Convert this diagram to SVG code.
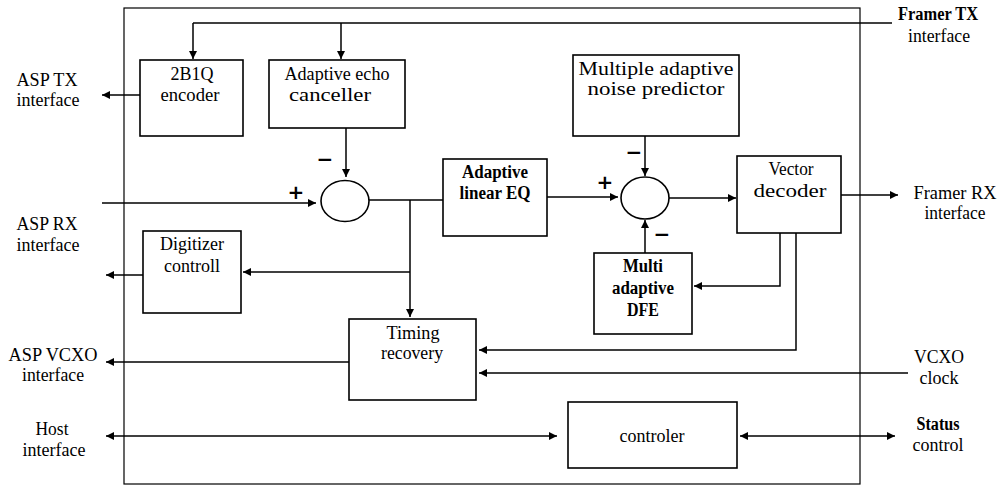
<svg xmlns="http://www.w3.org/2000/svg" width="999" height="486" viewBox="0 0 999 486">
<defs>
<marker id="ah" viewBox="0 0 10 10" refX="10" refY="5" markerWidth="10" markerHeight="8" markerUnits="userSpaceOnUse" orient="auto-start-reverse">
<path d="M0,0 L10,5 L0,10 z" fill="#000"/>
</marker>
<style>
.box{fill:#fff;stroke:#000;stroke-width:1.6}
.frame{fill:none;stroke:#000;stroke-width:1.2}
.ln{fill:none;stroke:#000;stroke-width:1.5}
.ar{marker-end:url(#ah)}
.ar2{marker-start:url(#ah);marker-end:url(#ah)}
text{font-family:"Liberation Serif","Times New Roman",serif;font-size:18px;fill:#000;text-anchor:middle}
.b{font-weight:bold}
.sg{font-family:"DejaVu Sans",sans-serif;font-size:20px;font-weight:bold}
</style>
</defs>
<rect width="999" height="486" fill="#fff"/>
<rect id="frame" class="frame" x="124" y="8" width="736" height="476"/>

<g id="connectors">
<path class="ln" d="M193,23 H892"/>
<path class="ln ar" d="M193,23 V59"/>
<path class="ln ar" d="M341,23 V59"/>
<path class="ln ar" d="M140,95 H102"/>
<path class="ln ar" d="M346,128 V177"/>
<path class="ln ar" d="M102,203 H316"/>
<path class="ln" d="M369,200 H443"/>
<path class="ln ar" d="M410,200 V317"/>
<path class="ln ar" d="M410,272 H243"/>
<path class="ln ar" d="M143,275 H106"/>
<path class="ln ar" d="M349,362 H106"/>
<path class="ln ar" d="M547,197 H618"/>
<path class="ln ar" d="M645,136 V176"/>
<path class="ln ar" d="M645,253 V220"/>
<path class="ln ar" d="M669,198 H736"/>
<path class="ln ar" d="M841,195 H898"/>
<path class="ln ar" d="M780,233 V286 H694"/>
<path class="ln ar" d="M796,233 V350 H479"/>
<path class="ln ar" d="M908,373 H479"/>
<path class="ln ar2" d="M106,436 H557"/>
<path class="ln ar2" d="M740,436 H895"/>
</g>

<g id="sign-labels">
<text x="325" y="166" class="sg">−</text>
<text x="296" y="199" class="sg">+</text>
<text x="605" y="189" class="sg">+</text>
<text x="634" y="159" class="sg">−</text>
<text x="662" y="241" class="sg">−</text>
</g>

<g id="enc2b1q">
<rect class="box" x="140" y="60" width="103" height="76"/>
<text x="192" y="80" textLength="43" lengthAdjust="spacingAndGlyphs">2B1Q</text>
<text x="190" y="101" textLength="59" lengthAdjust="spacingAndGlyphs">encoder</text>
</g>

<g id="echo">
<rect class="box" x="269" y="60" width="136" height="68"/>
<text x="337" y="80" textLength="105" lengthAdjust="spacingAndGlyphs">Adaptive echo</text>
<text x="330" y="101" textLength="82" lengthAdjust="spacingAndGlyphs">canceller</text>
</g>

<g id="noise">
<rect class="box" x="573" y="55" width="166" height="81"/>
<text x="656" y="75" textLength="155" lengthAdjust="spacingAndGlyphs">Multiple adaptive</text>
<text x="656" y="95" textLength="137" lengthAdjust="spacingAndGlyphs">noise predictor</text>
</g>

<g id="sum1">
<ellipse class="box" cx="345" cy="201" rx="24" ry="20.5"/>
</g>

<g id="eq">
<rect class="box" x="443" y="159" width="104" height="77"/>
<text x="495" y="178" class="b" textLength="66" lengthAdjust="spacingAndGlyphs">Adaptive</text>
<text x="495" y="199" class="b" textLength="71" lengthAdjust="spacingAndGlyphs">linear EQ</text>
</g>

<g id="sum2">
<ellipse class="box" cx="645" cy="198" rx="24" ry="21"/>
</g>

<g id="vector">
<rect class="box" x="737" y="156" width="104" height="77"/>
<text x="791" y="175" textLength="45" lengthAdjust="spacingAndGlyphs">Vector</text>
<text x="790" y="197" textLength="73" lengthAdjust="spacingAndGlyphs">decoder</text>
</g>

<g id="digitizer">
<rect class="box" x="143" y="231" width="98" height="82"/>
<text x="192" y="250" textLength="64" lengthAdjust="spacingAndGlyphs">Digitizer</text>
<text x="192" y="272" textLength="56" lengthAdjust="spacingAndGlyphs">controll</text>
</g>

<g id="dfe">
<rect class="box" x="594" y="253" width="98" height="81"/>
<text x="643" y="272" class="b" textLength="40" lengthAdjust="spacingAndGlyphs">Multi</text>
<text x="643" y="294" class="b" textLength="62" lengthAdjust="spacingAndGlyphs">adaptive</text>
<text x="643" y="316" class="b" textLength="32" lengthAdjust="spacingAndGlyphs">DFE</text>
</g>

<g id="timing">
<rect class="box" x="349" y="319" width="127" height="81"/>
<text x="413" y="339" textLength="53" lengthAdjust="spacingAndGlyphs">Timing</text>
<text x="412" y="359" textLength="62" lengthAdjust="spacingAndGlyphs">recovery</text>
</g>

<g id="controler">
<rect class="box" x="568" y="402" width="169" height="66"/>
<text x="652" y="442" textLength="65" lengthAdjust="spacingAndGlyphs">controler</text>
</g>

<g id="ext-labels">
<text x="47" y="86" textLength="61" lengthAdjust="spacingAndGlyphs">ASP TX</text>
<text x="48" y="106" textLength="63" lengthAdjust="spacingAndGlyphs">interface</text>
<text x="47" y="230" textLength="61" lengthAdjust="spacingAndGlyphs">ASP RX</text>
<text x="48" y="251" textLength="63" lengthAdjust="spacingAndGlyphs">interface</text>
<text x="53" y="361" textLength="89" lengthAdjust="spacingAndGlyphs">ASP VCXO</text>
<text x="53" y="381" textLength="62" lengthAdjust="spacingAndGlyphs">interface</text>
<text x="52" y="435" textLength="33" lengthAdjust="spacingAndGlyphs">Host</text>
<text x="54" y="456" textLength="63" lengthAdjust="spacingAndGlyphs">interface</text>
<text x="938" y="20" class="b" textLength="80" lengthAdjust="spacingAndGlyphs">Framer TX</text>
<text x="939" y="42" textLength="62" lengthAdjust="spacingAndGlyphs">interface</text>
<text x="955" y="199" textLength="83" lengthAdjust="spacingAndGlyphs">Framer RX</text>
<text x="955" y="219" textLength="61" lengthAdjust="spacingAndGlyphs">interface</text>
<text x="939" y="363" textLength="50" lengthAdjust="spacingAndGlyphs">VCXO</text>
<text x="939" y="384" textLength="39" lengthAdjust="spacingAndGlyphs">clock</text>
<text x="938" y="430" class="b" textLength="43" lengthAdjust="spacingAndGlyphs">Status</text>
<text x="938" y="451" textLength="51" lengthAdjust="spacingAndGlyphs">control</text>
</g>
</svg>
